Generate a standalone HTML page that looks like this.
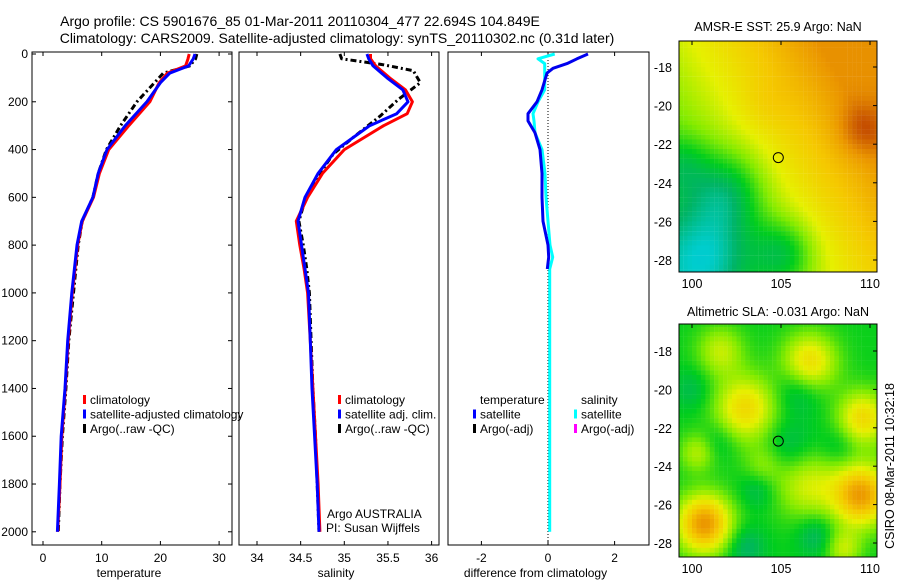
<!DOCTYPE html>
<html><head><meta charset="utf-8"><style>
body{margin:0;background:#fff}
svg{display:block;font-family:"Liberation Sans",sans-serif}
text{fill:#000}
</style></head><body>
<svg id="s" width="900" height="580" viewBox="0 0 900 580"></svg>
<script>
// ---- data ----
const depthT = [0,20,50,80,120,200,300,400,500,600,700,800,1000,1200,1400,1600,1800,2000];
const tempClim = [24.9,24.7,24.3,21.2,19.8,18.2,14.6,11.2,9.6,8.6,6.7,5.9,5.0,4.3,3.8,3.2,2.9,2.5];
const tempSat  = [25.9,25.6,24.8,21.6,20.0,17.7,14.0,10.9,9.4,8.5,6.6,5.8,4.9,4.2,3.75,3.1,2.8,2.45];
const tempArgo = [26.2,26.0,25.0,20.5,19.0,16.0,13.2,10.8,9.4,8.5,6.7,6.0,5.2,4.4,3.9,3.3,2.9,2.6];
const depthS = [0,20,50,100,150,200,250,300,400,500,600,700,800,900,1000,1200,1400,1600,1800,2000];
const salClim = [35.30,35.30,35.36,35.52,35.70,35.78,35.72,35.45,35.00,34.75,34.58,34.45,34.49,34.54,34.58,34.61,34.64,34.67,34.70,34.72];
const salSat  = [35.26,35.28,35.33,35.49,35.67,35.73,35.60,35.29,34.91,34.70,34.55,34.47,34.51,34.55,34.59,34.61,34.63,34.66,34.69,34.71];
const depthA = [0,20,45,70,120,190,260,350,420,500,600,700,800,900,1000,1200,1400,1600,1800,2000];
const salArgo = [34.95,34.97,35.45,35.79,35.87,35.62,35.41,35.10,34.87,34.72,34.56,34.48,34.53,34.57,34.60,34.62,34.64,34.67,34.69,34.71];
const depthD = [0,20,40,60,80,150,200,250,280,330,400,500,600,700,800,850,900,1000,1200,1400,1600,1800,2000];
const diffT = [1.2,0.87,0.57,0.15,-0.03,-0.18,-0.33,-0.6,-0.6,-0.39,-0.24,-0.18,-0.18,-0.15,0,0.02,-0.02,-0.02,-0.02,-0.02,-0.03,-0.03,-0.03];
const diffS = [0.2,-0.3,-0.1,-0.1,-0.1,-0.1,-0.3,-0.45,-0.42,-0.39,-0.18,-0.09,-0.06,0,0.06,0.14,0.05,0.05,0.05,0.05,0.05,0.05,0.05];
const depthTicks = [0,200,400,600,800,1000,1200,1400,1600,1800,2000];
const tempTicks = [0,10,20,30];
const salTicks = [34,34.5,35,35.5,36];
const diffTicks = [-2,0,2];
const latTicks = [-18,-20,-22,-24,-26,-28];
const lonTicks = [100,105,110];
// map fields: [lon, lat, amplitude, radius(deg)]
const sstBlobs = [[109.6,-21.2,0.14,1.3],[102,-24.5,-0.22,2.2],[101,-27.8,-0.2,2.4],[105.2,-27.6,-0.22,1.8],[99.5,-23,-0.1,1.5],[104,-20,0.04,1.5]];
const slaBlobs = [[103,-21,0.33,1.7],[100.7,-27,0.52,1.5],[109.5,-25.5,0.5,1.6],[106.6,-18.6,0.33,1.5],[109.6,-21.5,0.33,1.4],[106.5,-25,0.22,1.8],[101.6,-18,0.2,1.3],[104,-24,0.12,1.1],[100.3,-23.3,0.18,1.0],[108.5,-28.3,0.2,1.0],
  [106,-20,-0.12,1.3],[105.5,-23,-0.1,1.4],[107,-27.6,-0.12,1.1],[103,-28.2,-0.12,1.1],[103.7,-25.2,-0.1,1.0],[101.5,-22.7,-0.08,1.0],[100,-20,-0.08,1.1],[108.3,-23,-0.08,1.1]];
// ---- scales ----
const yD = d => 54 + d*0.2389;
const xT = t => 43 + t*5.87;
const xS = s => 257 + (s-34)*87.3;
const xDf = v => 548 + v*33.3;
const lonX = lon => 692 + (lon-100)*17.8;
const latY1 = lat => 67 + (-18-lat)*19.3;
const latY2 = lat => 351 + (-18-lat)*19.2;
const NS='http://www.w3.org/2000/svg', svg=document.getElementById('s');
function mk(tag, attrs, parent){const e=document.createElementNS(NS,tag);for(const k in attrs)e.setAttribute(k,attrs[k]);(parent||svg).appendChild(e);return e;}
function txt(x,y,s,anchor,size){const t=mk('text',{x:x,y:y,'font-size':size||12,'text-anchor':anchor||'middle'});t.textContent=s;return t;}
function line(xs,ys,color,dash,w){const pts=xs.map((x,i)=>x.toFixed(1)+','+ys[i].toFixed(1)).join(' ');const a={points:pts,fill:'none',stroke:color,'stroke-width':w||3,'stroke-linejoin':'round'};if(dash)a['stroke-dasharray']=dash;return mk('polyline',a);}
// titles
let t;
t=txt(300,26,'Argo profile: CS 5901676_85 01-Mar-2011 20110304_477 22.694S 104.849E','middle',14);

t=txt(337,43,'Climatology: CARS2009. Satellite-adjusted climatology: synTS_20110302.nc (0.31d later)','middle',14);

// panels
const panels=[{x0:32,x1:232,name:'temperature-panel',ticks:tempTicks,sc:xT,label:'temperature'},
 {x0:239,x1:439,name:'salinity-panel',ticks:salTicks,sc:xS,label:'salinity'},
 {x0:448,x1:649,name:'difference-panel',ticks:diffTicks,sc:xDf,label:'difference from climatology'}];
panels.forEach((p,i)=>{
 const g=mk('g',{});
 
 
 mk('rect',{x:p.x0,y:52,width:p.x1-p.x0,height:493,fill:'#fff',stroke:'#000','stroke-width':1},g);
 p.ticks.forEach(v=>{const x=p.sc(v);
  mk('line',{x1:x,y1:52,x2:x,y2:56,stroke:'#000'},g);mk('line',{x1:x,y1:545,x2:x,y2:541,stroke:'#000'},g);
  const l=txt(x,562,String(v));});
 const xl=txt((p.x0+p.x1)/2+(i==2?-13:-3),577,p.label);
 
});
depthTicks.forEach(d=>{const y=yD(d);
 mk('line',{x1:32,y1:y,x2:36,y2:y,stroke:'#000'});mk('line',{x1:232,y1:y,x2:228,y2:y,stroke:'#000'});
 const l=txt(28,y+4,String(d),'end');});
// temperature
let c;
c=line(tempArgo.map(xT),depthT.map(yD),'#000','6,3,2,3');
c=line(tempClim.map(xT),depthT.map(yD),'#f00');
c=line(tempSat.map(xT),depthT.map(yD),'#00f');
// salinity
c=line(salArgo.map(xS),depthA.map(yD),'#000','6,3,2,3');
c=line(salClim.map(xS),depthS.map(yD),'#f00');
c=line(salSat.map(xS),depthS.map(yD),'#00f');
// diff
c=mk('line',{x1:xDf(0),y1:60,x2:xDf(0),y2:545,stroke:'#000','stroke-width':1,'stroke-dasharray':'1,2'});

c=line(diffS.map(xDf),depthD.map(yD),'#0ff');
c=line(diffT.slice(0,17).map(xDf),depthD.slice(0,17).map(yD),'#00e');
// legends
function legend(x,y,items,name){const g=mk('g',{});
 items.forEach((it,i)=>{const yy=y+i*14.5; if(it[0])mk('rect',{x:x,y:yy-9,width:3,height:9,fill:it[0]},g);
 const tt=mk('text',{x:x+7,y:yy,'font-size':12},g);tt.textContent=it[1];});}
legend(83,404,[['#f00','climatology'],['#00f','satellite-adjusted climatology'],['#000','Argo(..raw -QC)']],'temp-legend');
legend(338,404,[['#f00','climatology'],['#00f','satellite adj. clim.'],['#000','Argo(..raw -QC)']],'sal-legend');
legend(473,404,[[null,'temperature'],['#00f','satellite'],['#000','Argo(-adj)']],'diff-temp-legend');
legend(574,404,[[null,'salinity'],['#0ff','satellite'],['#f0f','Argo(-adj)']],'diff-sal-legend');
t=txt(327,518,'Argo AUSTRALIA','start');
t=txt(326,532,'PI: Susan Wijffels','start');
// colormap
const cm=[[0,[0,170,240]],[0.12,[0,205,205]],[0.22,[0,180,100]],[0.32,[0,205,30]],[0.45,[130,235,0]],[0.58,[230,240,0]],[0.72,[245,200,0]],[0.85,[235,150,0]],[1,[195,75,0]]];
function col(v){v=Math.max(0,Math.min(1,v));for(let i=1;i<cm.length;i++){if(v<=cm[i][0]){const a=cm[i-1],b=cm[i],f=(v-a[0])/(b[0]-a[0]);return 'rgb('+a[1].map((q,k)=>Math.round(q+(b[1][k]-q)*f)).join(',')+')';}}return 'rgb(195,75,0)';}
function field(blobs,base,lon,lat){let v=base(lon,lat);blobs.forEach(b=>{const d2=((lon-b[0])**2+(lat-b[1])**2)/(b[3]*b[3]);v+=b[2]*Math.exp(-d2);});return v;}
function drawMap(y0,y1,latY,blobs,base,name,title,ty){
 const g=mk('g',{});
 const clip='c'+name;const cp=mk('clipPath',{id:clip},g);mk('rect',{x:679,y:y0,width:198,height:y1-y0},cp);
 const cg=mk('g',{'clip-path':'url(#'+clip+')'},g);
 for(let lon=99.25;lon<110.5;lon+=0.25)for(let lat=-16.5;lat>-28.75;lat-=0.25){
  const x=lonX(lon),y=latY(lat);
  mk('rect',{x:x.toFixed(1),y:y.toFixed(1),width:4.6,height:5,fill:col(field(blobs,base,lon+0.125,lat-0.125))},cg);}
 mk('rect',{x:679,y:y0,width:198,height:y1-y0,fill:'none',stroke:'#000'},g);
 latTicks.forEach(l=>{const y=latY(l);mk('line',{x1:877,y1:y,x2:873,y2:y,stroke:'#000'},g);
  const tl=txt(672,y+5,String(l),'end',12.5);});
 lonTicks.forEach(l=>{const x=lonX(l);mk('line',{x1:x,y1:y0,x2:x,y2:y0+4,stroke:'#000'},g);
  const tl=txt(x,y1+16,String(l),'middle',12.5);});
 const cc=mk('circle',{cx:lonX(104.849),cy:latY(-22.694),r:5,fill:'none',stroke:'#000'},g);
 
 const tt=txt(778,ty,title,'middle',12.5);
}
drawMap(41,272,latY1,sstBlobs,(lon,lat)=>Math.min(0.86,0.62+0.025*(lat+23)+0.04*(lon-105)),'sst-map','AMSR-E SST: 25.9 Argo: NaN',31);
drawMap(324,557,latY2,slaBlobs,(lon,lat)=>0.33,'sla-map','Altimetric SLA: -0.031 Argo: NaN',316);
t=mk('text',{x:0,y:0,'font-size':12.5,'text-anchor':'middle',transform:'translate(894,466) rotate(-90)'});
t.textContent='CSIRO 08-Mar-2011 10:32:18';

</script>
</body></html>
